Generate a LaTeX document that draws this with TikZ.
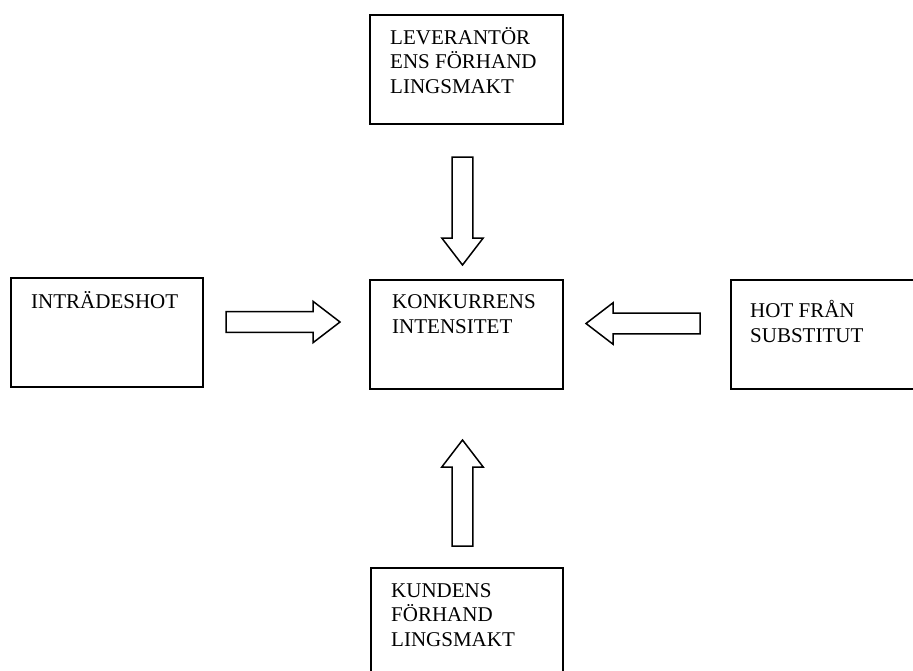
\documentclass[tikz,border=0pt]{standalone}
\usepackage{fontspec}
\setmainfont{Liberation Serif}
\begin{document}
\begin{tikzpicture}[x=1pt,y=-1pt,
  box/.style={draw, line width=1.8pt, rectangle, anchor=north west, inner sep=0pt},
  label/.style={anchor=base west, align=left, inner sep=0pt,
    font=\fontsize{21}{24.3}\selectfont},
  pics/blockarrow/.style={code={
    \draw[line width=1.5pt, line join=miter]
      (0,-10.3) -- (#1-27,-10.3) -- (#1-27,-20.7) -- (#1,0)
      -- (#1-27,20.7) -- (#1-27,10.3) -- (0,10.3) -- cycle;}}]
\clip (0,0) rectangle (913,670);

% boxes
\node[box, minimum width=193, minimum height=109] (lev) at (369,14) {};
\node[box, minimum width=192, minimum height=109] (inr) at (10,277) {};
\node[box, minimum width=193, minimum height=109] (kon) at (369,279) {};
\node[box, minimum width=200, minimum height=109] (sub) at (730,279) {};
\node[box, minimum width=192, minimum height=120] (kun) at (370,567) {};

% texts (anchored at the baseline of the last line)
\node[label] (levtxt) at (390,93) {LEVERANTÖR\\ENS FÖRHAND\\LINGSMAKT};
\node[label] (inrtxt) at (31,308) {INTRÄDESHOT};
\node[label] (kontxt) at (392,333) {KONKURRENS\\INTENSITET};
\node[label] (subtxt) at (750,342) {HOT FRÅN\\SUBSTITUT};
\node[label] (kuntxt) at (391,646) {KUNDENS\\FÖRHAND\\LINGSMAKT};

% block arrows towards the central box
\coordinate (aIn) at (226,322);
\coordinate (aSub) at (700,323.5);
\coordinate (aLev) at (462.5,157);
\coordinate (aKun) at (462.5,546);
\pic at (aIn) {blockarrow=114};
\pic[rotate=180] at (aSub) {blockarrow=114};
\pic[rotate=-90] at (aLev) {blockarrow=108};
\pic[rotate=90] at (aKun) {blockarrow=106};
\end{tikzpicture}
\end{document}
